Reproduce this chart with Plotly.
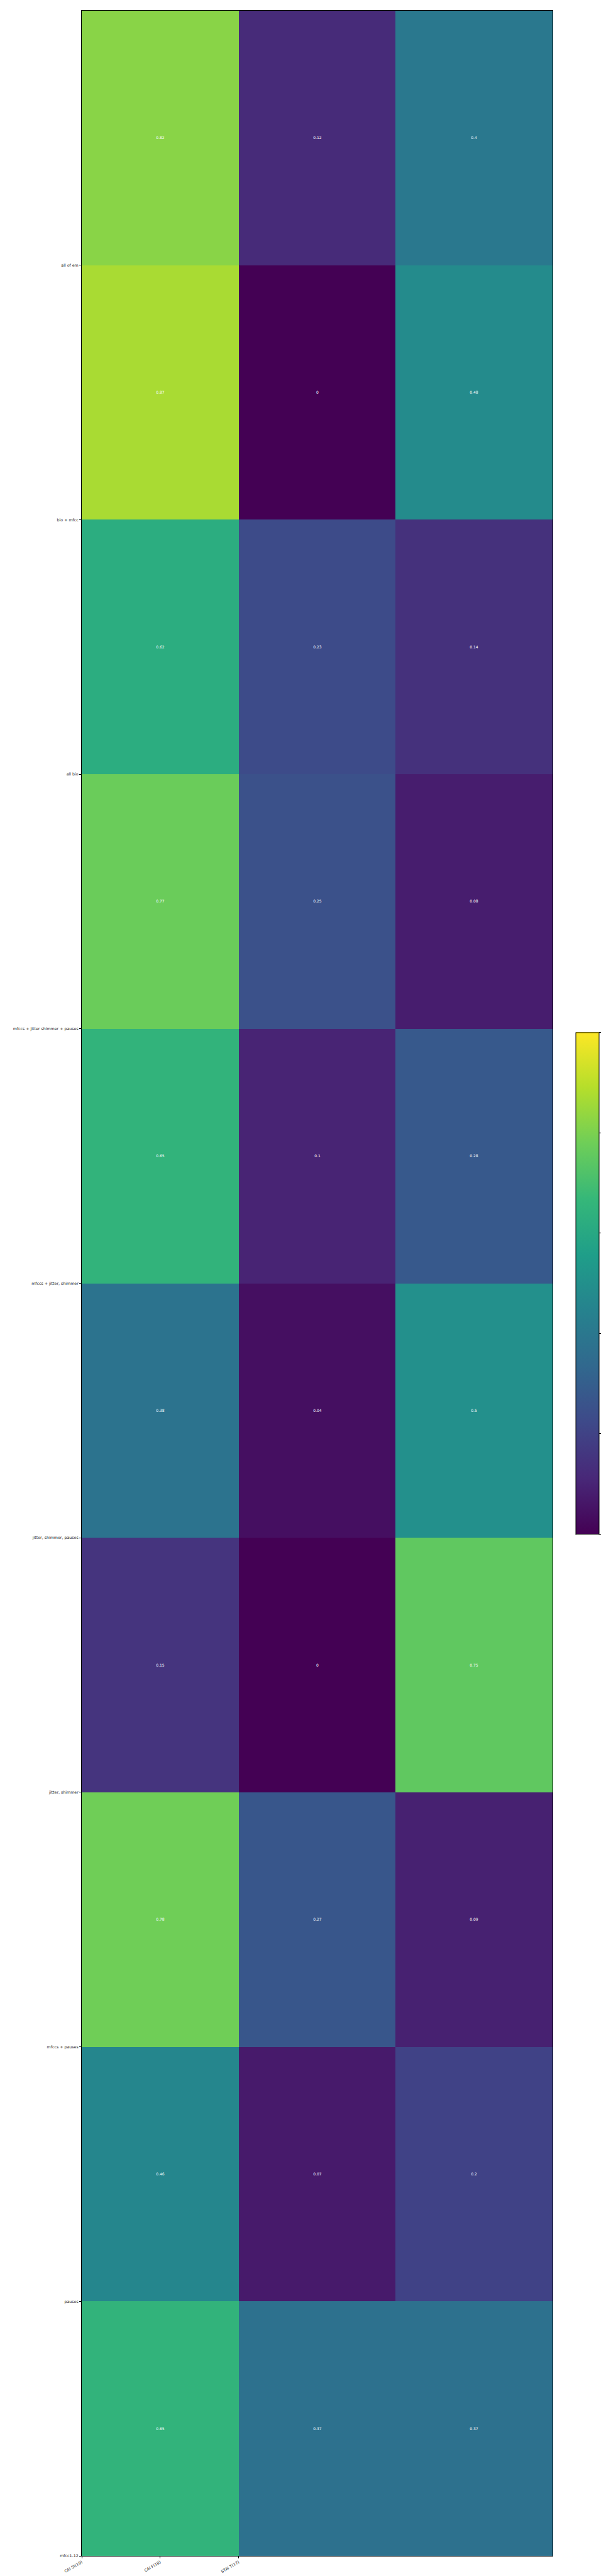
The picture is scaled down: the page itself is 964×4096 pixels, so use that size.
import plotly.graph_objects as go

row_labels = ["all of em", "bio + mfcc", "all bio", "mfccs + jitter shimmer + pauses",
              "mfccs + jitter, shimmer", "jitter, shimmer, pauses", "jitter, shimmer",
              "mfccs + pauses", "pauses", "mfcc1-12"]
col_labels = ["CAI St(19)", "CAI F(18)", "STAI T(17)"]

col_caist = [0.82, 0.87, 0.62, 0.77, 0.65, 0.38, 0.15, 0.78, 0.46, 0.65]
col_caif = [0.12, 0.0, 0.23, 0.25, 0.1, 0.04, 0.0, 0.27, 0.07, 0.37]
col_stait = [0.40, 0.48, 0.14, 0.08, 0.28, 0.50, 0.75, 0.09, 0.20, 0.37]

z = [[a, b, c] for a, b, c in zip(col_caist, col_caif, col_stait)]
txt = [[f"{v:g}" for v in r] for r in z]

fig = go.Figure(go.Heatmap(
    z=z, x=[0, 1, 2], y=list(range(10)),
    colorscale="Viridis", zmin=0, zmax=1,
    text=txt, texttemplate="%{text}",
    textfont=dict(color="white", size=6, family="DejaVu Sans"),
    xgap=0, ygap=0,
    colorbar=dict(
        lenmode="pixels", len=818, thickness=37,
        x=1.036, xanchor="left", y=0.5, yanchor="middle",
        outlinecolor="black", outlinewidth=1,
        ticks="outside", ticklen=3, tickcolor="black",
        tickvals=[0, 0.2, 0.4, 0.6, 0.8, 1.0],
        ticktext=["0.0", "0.2", "0.4", "0.6", "0.8", "1.0"],
        tickfont=dict(size=6, family="DejaVu Sans", color="black"),
    ),
))

fig.update_layout(
    width=964, height=4096,
    margin=dict(l=122, r=93, t=9, b=40, autoexpand=False),
    paper_bgcolor="white", plot_bgcolor="white",
    font=dict(family="DejaVu Sans", size=6.3, color="#222222"),
)
fig.update_xaxes(
    range=[-0.5, 2.5], tickvals=[-0.5, 0, 0.5], ticktext=col_labels,
    tickangle=-30, ticks="outside", ticklen=3, tickcolor="black",
    showline=True, linecolor="black", linewidth=1, mirror=True,
    showgrid=False, zeroline=False, automargin=False,
)
fig.update_yaxes(
    range=[9.5, -0.5], tickvals=[i + 0.5 for i in range(10)], ticktext=row_labels,
    ticks="outside", ticklen=3, tickcolor="black",
    showline=True, linecolor="black", linewidth=1, mirror=True,
    showgrid=False, zeroline=False, automargin=False,
)

fig.write_html("out.html")
